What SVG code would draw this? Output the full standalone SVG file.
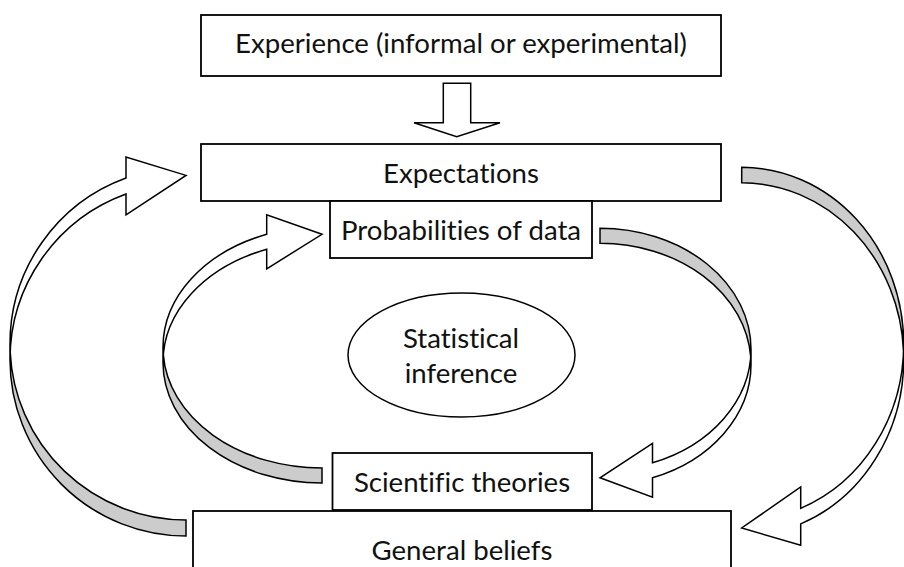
<svg xmlns="http://www.w3.org/2000/svg" width="904" height="567" viewBox="0 0 904 567">
  <style>
    .box { fill: #ffffff; stroke: #000000; stroke-width: 1.8; }
    .lbl { font-family: Lato, "Open Sans", "Liberation Sans", sans-serif; font-size: 27.6px; fill: #111111; text-anchor: middle; font-variant-ligatures: none; font-feature-settings: "liga" 0; }
    .face { fill: #ffffff; stroke: none; }
    .back { fill: #cccccc; stroke: none; }
    .edge { fill: none; stroke: #000000; stroke-width: 1.5; stroke-linejoin: miter; }
  </style>
  <rect width="904" height="567" fill="#ffffff"/>

  <!-- curved ribbon arrows -->
  <g id="connectors">
    <!-- outer left: General beliefs -> Expectations -->
    <g id="arc-beliefs-expectations">
      <path class="face" d="M 10 359.7 A 176 176.3 0 0 1 126 193.96 L 126 214.96 L 186 175.4 L 126 156.96 L 126 177.96 A 176 176.3 0 0 0 10 343.7 L 10 359.7 A 176 176.3 0 0 0 186 536 L 186 520 A 176 176.3 0 0 1 10.18 351.7 Z"/>
      <path class="back" d="M 186 520 A 176 176.3 0 0 1 10 343.7 L 10 359.7 A 176 176.3 0 0 0 186 536 Z"/>
      <path class="edge" d="M 10 359.7 A 176 176.3 0 0 1 126 193.96 L 126 214.96 L 186 175.4 L 126 156.96 L 126 177.96 A 176 176.3 0 0 0 10 343.7 L 10 359.7 A 176 176.3 0 0 0 186 536 L 186 520 A 176 176.3 0 0 1 10.18 351.7"/>
    </g>
    <!-- inner left: Scientific theories -> Probabilities of data -->
    <g id="arc-theories-probabilities">
      <path class="face" d="M 163 362.4 A 159 120.6 0 0 1 266.7 249.33 L 266.7 268.83 L 322 234.3 L 266.7 214.83 L 266.7 234.33 A 159 120.6 0 0 0 163 347.4 L 163 362.4 A 159 120.6 0 0 0 322 483 L 322 468 A 159 120.6 0 0 1 163.31 354.9 Z"/>
      <path class="back" d="M 322 468 A 159 120.6 0 0 1 163 347.4 L 163 362.4 A 159 120.6 0 0 0 322 483 Z"/>
      <path class="edge" d="M 163 362.4 A 159 120.6 0 0 1 266.7 249.33 L 266.7 268.83 L 322 234.3 L 266.7 214.83 L 266.7 234.33 A 159 120.6 0 0 0 163 347.4 L 163 362.4 A 159 120.6 0 0 0 322 483 L 322 468 A 159 120.6 0 0 1 163.31 354.9"/>
    </g>
    <!-- inner right: Probabilities of data -> Scientific theories -->
    <g id="arc-probabilities-theories">
      <path class="face" d="M 751 349.3 A 151 121 0 0 1 652.5 462.75 L 652.5 443.4 L 600 477.8 L 652.5 497.1 L 652.5 477.75 A 151 121 0 0 0 751 364.3 L 751 349.3 A 151 121 0 0 0 600 228.3 L 600 243.3 A 151 121 0 0 1 750.71 356.8 Z"/>
      <path class="back" d="M 600 243.3 A 151 121 0 0 1 751 364.3 L 751 349.3 A 151 121 0 0 0 600 228.3 Z"/>
      <path class="edge" d="M 751 349.3 A 151 121 0 0 1 652.5 462.75 L 652.5 443.4 L 600 477.8 L 652.5 497.1 L 652.5 477.75 A 151 121 0 0 0 751 364.3 L 751 349.3 A 151 121 0 0 0 600 228.3 L 600 243.3 A 151 121 0 0 1 750.71 356.8"/>
    </g>
    <!-- outer right: Expectations -> General beliefs -->
    <g id="arc-expectations-beliefs">
      <path class="face" d="M 903.7 343.9 A 162 176.6 0 0 1 800.7 508.37 L 800.7 486.97 L 741.7 528 L 800.7 545.27 L 800.7 523.87 A 162 176.6 0 0 0 903.7 359.4 L 903.7 343.9 A 162 176.6 0 0 0 741.7 167.3 L 741.7 182.8 A 162 176.6 0 0 1 903.54 351.65 Z"/>
      <path class="back" d="M 741.7 182.8 A 162 176.6 0 0 1 903.7 359.4 L 903.7 343.9 A 162 176.6 0 0 0 741.7 167.3 Z"/>
      <path class="edge" d="M 903.7 343.9 A 162 176.6 0 0 1 800.7 508.37 L 800.7 486.97 L 741.7 528 L 800.7 545.27 L 800.7 523.87 A 162 176.6 0 0 0 903.7 359.4 L 903.7 343.9 A 162 176.6 0 0 0 741.7 167.3 L 741.7 182.8 A 162 176.6 0 0 1 903.54 351.65"/>
    </g>
    <!-- block arrow: Experience -> Expectations -->
    <path id="arrow-experience-expectations" class="edge" d="M 443.3 83.3 L 470.7 83.3 L 470.7 122.7 L 500 122.7 L 456.7 136.7 L 414 122.7 L 443.3 122.7 Z" style="fill:#ffffff"/>
  </g>

  <g id="experience">
    <rect class="box" x="201" y="15" width="520" height="61"/>
    <text class="lbl" x="461" y="53">Experience (informal or experimental)</text>
  </g>
  <g id="expectations">
    <rect class="box" x="201" y="144" width="520" height="57"/>
    <text class="lbl" x="461" y="183">Expectations</text>
  </g>
  <g id="probabilities">
    <rect class="box" x="330" y="201" width="262" height="57"/>
    <text class="lbl" x="461" y="240">Probabilities of data</text>
  </g>
  <g id="inference">
    <ellipse cx="461.5" cy="355" rx="113.5" ry="62" fill="#ffffff" stroke="#000000" stroke-width="1.5"/>
    <text class="lbl" x="461" y="348">Statistical</text>
    <text class="lbl" x="461" y="383">inference</text>
  </g>
  <g id="theories">
    <rect class="box" x="332.5" y="453" width="259.5" height="57"/>
    <text class="lbl" x="462" y="492">Scientific theories</text>
  </g>
  <g id="beliefs">
    <rect class="box" x="193" y="511" width="538" height="70"/>
    <text class="lbl" x="462" y="559.5">General beliefs</text>
  </g>
</svg>
